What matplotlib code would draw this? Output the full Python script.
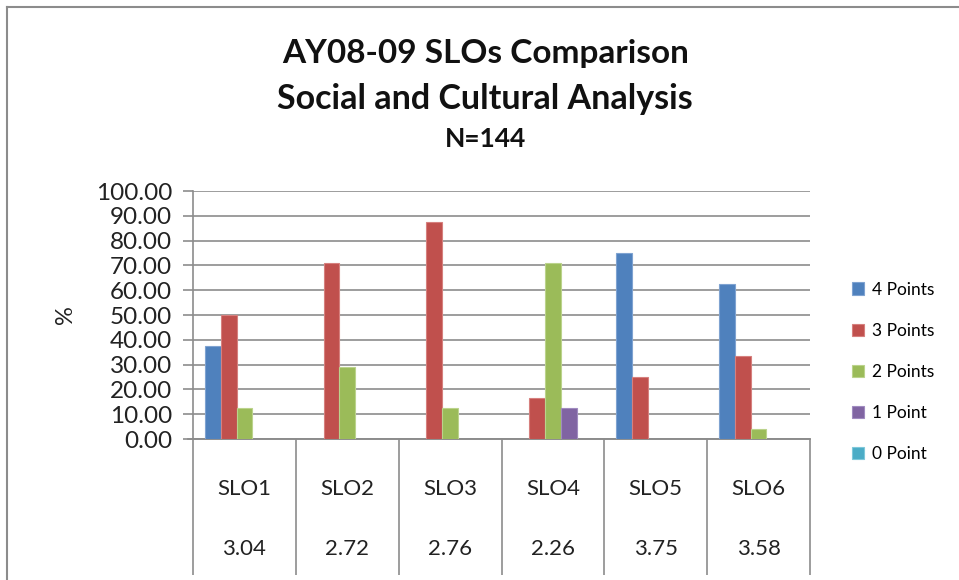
import matplotlib
matplotlib.use("Agg")
import matplotlib.pyplot as plt
import numpy as np
from matplotlib.patches import Patch
from matplotlib.lines import Line2D

categories = ["SLO1", "SLO2", "SLO3", "SLO4", "SLO5", "SLO6"]
averages = ["3.04", "2.72", "2.76", "2.26", "3.75", "3.58"]
series_names = ["4 Points", "3 Points", "2 Points", "1 Point", "0 Point"]
pts4 = [37.50, 0.00, 0.00, 0.00, 75.00, 62.50]
pts3 = [50.00, 70.83, 87.50, 16.67, 25.00, 33.33]
pts2 = [12.50, 29.17, 12.50, 70.83, 0.00, 4.17]
pts1 = [0.00, 0.00, 0.00, 12.50, 0.00, 0.00]
pts0 = [0.00, 0.00, 0.00, 0.00, 0.00, 0.00]
series_values = [pts4, pts3, pts2, pts1, pts0]
colors = ["#4F81BD", "#C0504D", "#9BBB59", "#8064A2", "#4BACC6"]
edge_colors = ["#7FA3D1", "#D6807E", "#BBD38C", "#A08BC0", "#7FC8DA"]
yticks = np.arange(0, 101, 10)

FONT = ["Lato", "DejaVu Sans"]
plt.rcParams['font.family'] = FONT

fig = plt.figure(figsize=(9.59, 5.80), dpi=100)
ax = fig.add_axes([193/959, 1-439/580, (810-193)/959, (439-191)/580])

n = len(categories)
x = np.arange(n)
nser = len(series_values)
bw = 1.0 / (nser + 1.5)
for i, (vals, c, ec) in enumerate(zip(series_values, colors, edge_colors)):
    offs = (i - (nser - 1) / 2) * bw
    h = np.array(vals)
    ax.bar(x + offs, h, width=bw, color=c, edgecolor=ec,
           linewidth=np.where(h > 0, 0.8, 0.0), zorder=3)

ax.set_xlim(-0.5, n - 0.5)
ax.set_ylim(0, 100)
ax.set_yticks(yticks)
ax.set_yticklabels([f"{v:.2f}" for v in yticks], fontsize=17.5, color="#222222")
ax.yaxis.grid(True, color="#8C8C8C", linewidth=1.2, zorder=0)
ax.set_xticks([])
ax.tick_params(axis='y', length=7, color="#8C8C8C", width=1.2, pad=8)
for s in ["top", "right"]:
    ax.spines[s].set_visible(False)
ax.spines["left"].set_color("#8C8C8C")
ax.spines["left"].set_linewidth(1.2)
ax.spines["bottom"].set_color("#8C8C8C")
ax.spines["bottom"].set_linewidth(1.2)

ax.set_ylabel("%", fontsize=17, labelpad=14, color="#222222")

# table-style category area
trans = ax.get_xaxis_transform()
bound = np.arange(n + 1) - 0.5
ax.vlines(bound, -0.55, 0, transform=trans, colors="#8C8C8C", linewidth=1.2, clip_on=False)
ax.plot([-0.55, n - 0.5], [0, 0], transform=trans, color="#8C8C8C", linewidth=1.2, clip_on=False)
for xi, cat, avg in zip(x, categories, averages):
    ax.text(xi, -0.20, cat, transform=trans, ha='center', va='center', fontsize=16, color="#222222")
    ax.text(xi, -0.445, avg, transform=trans, ha='center', va='center', fontsize=16, color="#222222")

# titles
fig.text(0.506, 1-53/580, "AY08-09 SLOs Comparison", ha='center', va='center',
         fontsize=24, fontweight='bold', color="#111111")
fig.text(0.506, 1-99/580, "Social and Cultural Analysis", ha='center', va='center',
         fontsize=24.5, fontweight='bold', color="#111111")
fig.text(0.506, 1-139/580, "N=144", ha='center', va='center',
         fontsize=19, fontweight='bold', color="#111111")

# legend
handles = [Patch(facecolor=c, edgecolor=ec, linewidth=0.8) for c, ec in zip(colors, edge_colors)]
fig.legend(handles, series_names, loc='center left', bbox_to_anchor=(845/959, 1-372/580),
           frameon=False, fontsize=12.5, handlelength=0.7, handleheight=0.7,
           handletextpad=0.45, labelspacing=1.45, borderaxespad=0)

# outer chart border (top and left visible)
fig.add_artist(Line2D([7/959, 1.0], [1-7/580, 1-7/580], color="#8C8C8C", linewidth=1.5))
fig.add_artist(Line2D([7/959, 7/959], [0.0, 1-7/580], color="#8C8C8C", linewidth=1.5))

fig.savefig("out.png", dpi=100)
